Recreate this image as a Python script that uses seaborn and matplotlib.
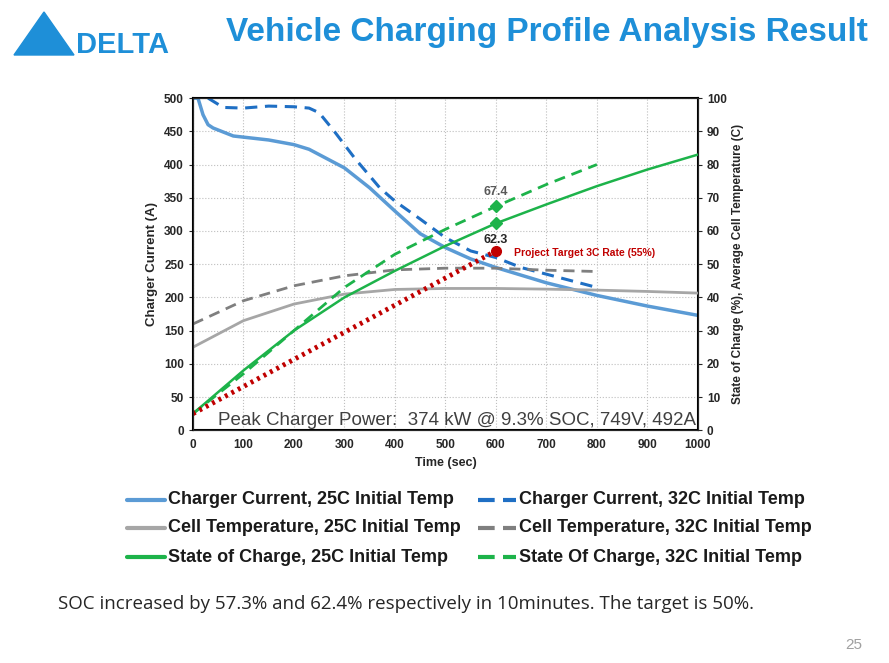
import matplotlib
matplotlib.use("Agg")
import matplotlib.pyplot as plt
import seaborn as sns
import pandas as pd
from matplotlib.patches import Polygon

sns.set_style("white")
plt.rcParams['font.family'] = ['Liberation Sans', 'DejaVu Sans']

t_c25 = [0, 10, 20, 30, 40, 80, 150, 200, 230, 300, 350, 400, 450, 500, 550, 600, 700, 800, 900, 1000]
c25 = [500, 500, 475, 460, 455, 443, 437, 430, 423, 395, 365, 330, 296, 275, 258, 245, 222, 203, 187, 173]
t_c32 = [30, 60, 100, 150, 200, 230, 250, 280, 320, 370, 400, 450, 500, 550, 600, 650, 700, 800]
c32 = [500, 486, 485, 488, 487, 485, 478, 450, 410, 365, 345, 318, 290, 270, 260, 245, 235, 215]
t_T25 = [0, 100, 200, 300, 400, 500, 600, 700, 800, 900, 1000]
T25 = [25, 33, 38, 41, 42.4, 42.7, 42.7, 42.5, 42.2, 41.8, 41.3]
t_T32 = [0, 100, 200, 300, 400, 500, 600, 700, 800]
T32 = [32, 39, 43.5, 46.5, 48.3, 48.8, 48.8, 48.2, 47.8]
t_S25 = [0, 100, 200, 300, 400, 500, 600, 700, 800, 900, 1000]
S25 = [5, 18, 30, 40, 48, 55.5, 62.3, 68, 73.5, 78.5, 83]
t_S32 = [0, 100, 200, 300, 400, 500, 600, 700, 800]
S32 = [5, 17, 30, 43, 53, 60.5, 67.4, 74, 80]
t_tgt = [0, 600]
tgt = [5, 54]

fig = plt.figure(figsize=(8.89, 6.63), dpi=100)
ax = fig.add_axes([0.217, 0.351, 0.568, 0.501])
ax2 = ax.twinx()

blue = '#5b9bd5'; dblue = '#1f6fc4'; grey = '#a6a6a6'; dgrey = '#7f7f7f'; green = '#1db34a'

sns.lineplot(x=t_c25, y=c25, ax=ax, color=blue, lw=2.5)
sns.lineplot(x=t_c32, y=c32, ax=ax, color=dblue, lw=2.2, linestyle=(0, (4, 2.5)))
sns.lineplot(x=t_T25, y=T25, ax=ax2, color=grey, lw=2)
sns.lineplot(x=t_T32, y=T32, ax=ax2, color=dgrey, lw=2, linestyle=(0, (4, 2.5)))
sns.lineplot(x=t_S25, y=S25, ax=ax2, color=green, lw=1.8)
sns.lineplot(x=t_S32, y=S32, ax=ax2, color=green, lw=2, linestyle=(0, (4, 2.5)))
sns.lineplot(x=t_tgt, y=tgt, ax=ax2, color='#c00000', lw=3.5, linestyle=(0, (0.6, 0.9)))
ax2.plot([600], [62.3], marker='D', color=green, ms=6)
ax2.plot([600], [67.4], marker='D', color=green, ms=6)
ax2.plot([600], [54], marker='o', color='#c00000', ms=7)
ax2.text(600, 70, '67.4', ha='center', va='bottom', fontsize=9, fontweight='bold', color='#595959')
ax2.text(600, 55.5, '62.3', ha='center', va='bottom', fontsize=9, fontweight='bold', color='#262626')
ax2.text(635, 53.5, 'Project Target 3C Rate (55%)', ha='left', va='center', fontsize=7.5, fontweight='bold', color='#c00000')
ax2.text(997, 0.5, 'Peak Charger Power:  374 kW @ 9.3% SOC, 749V, 492A', ha='right', va='bottom', fontsize=13.5, color='#404040')

ax.set_xlim(0, 1000); ax.set_ylim(0, 500); ax2.set_ylim(0, 100)
ax.set_xticks(range(0, 1001, 100)); ax.set_yticks(range(0, 501, 50)); ax2.set_yticks(range(0, 101, 10))
for a in (ax, ax2):
    a.tick_params(labelsize=8.5, length=3, direction='out')
    for l in a.get_xticklabels() + a.get_yticklabels():
        l.set_fontweight('bold')
ax.grid(True, color='#bfbfbf', linestyle=':', lw=0.8)
for s in ax.spines.values():
    s.set_linewidth(1.5); s.set_color('black')
ax.set_xlabel('Time (sec)', fontsize=9, fontweight='bold')
ax.set_ylabel('Charger Current (A)', fontsize=9.5, fontweight='bold')
ax2.set_ylabel('State of Charge (%), Average Cell Temperature (C)', fontsize=8.5, fontweight='bold')

items = [("Charger Current, 25C Initial Temp", blue, '-', 127, 500),
         ("Charger Current, 32C Initial Temp", dblue, '--', 478, 500),
         ("Cell Temperature, 25C Initial Temp", grey, '-', 127, 528),
         ("Cell Temperature, 32C Initial Temp", dgrey, '--', 478, 528),
         ("State of Charge, 25C Initial Temp", green, '-', 127, 557),
         ("State Of Charge, 32C Initial Temp", green, '--', 478, 557)]
for lab, col, ls, x, y in items:
    yf = 1 - y / 663
    fig.add_artist(plt.Line2D([x / 889, (x + 38) / 889], [yf, yf], color=col, lw=3,
                              linestyle=(0, (4, 2)) if ls == '--' else '-'))
    fig.text((x + 41) / 889, yf, lab, fontsize=13, fontweight='bold', va='center', color='#1a1a1a')

fig.text(868 / 889, 1 - 33 / 663, 'Vehicle Charging Profile Analysis Result', fontsize=24,
         fontweight='bold', color='#1e8fd8', ha='right', va='center')
fig.add_artist(Polygon([[14 / 889, 1 - 55 / 663], [74 / 889, 1 - 55 / 663], [44 / 889, 1 - 12 / 663]],
                       closed=True, color='#1e8fd8', transform=fig.transFigure))
fig.text(76 / 889, 1 - 45 / 663, 'DELTA', fontsize=21, fontweight='bold', color='#1e8fd8', va='center')
fig.text(58 / 889, 1 - 604 / 663, 'SOC increased by 57.3% and 62.4% respectively in 10minutes. The target is 50%.',
         fontsize=13.5, va='center', family=['Open Sans', 'DejaVu Sans'])
fig.text(862 / 889, 1 - 645 / 663, '25', fontsize=11, color='#a0a0a0', ha='right', va='center')
fig.savefig('out.png', dpi=100)
